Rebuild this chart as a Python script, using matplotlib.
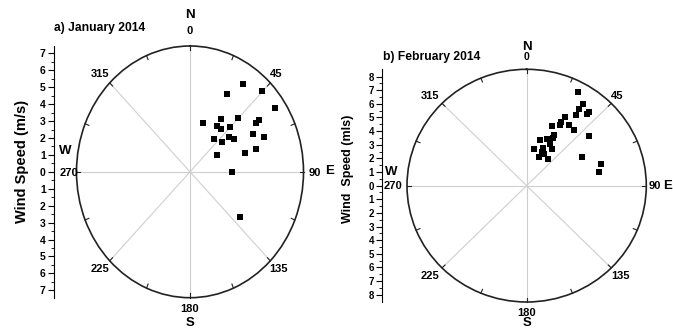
import numpy as np
import matplotlib.pyplot as plt

plt.rcParams["font.family"] = ["Liberation Sans", "DejaVu Sans"]
plt.rcParams["font.weight"] = "bold"

# wind direction (deg, clockwise from N) and speed (m/s)
jan_dir = [33.7, 27.9, 44.8, 56.1, 17.0, 33.4, 33.4, 39.3, 44.8, 44.8, 56.1, 56.2,
           39.3, 50.7, 56.1, 50.7, 61.6, 67.2, 61.4, 72.8, 72.9, 90.0, 129.0]
jan_speed = [6.24, 5.23, 6.73, 6.72, 3.00, 3.73, 3.26, 3.24, 4.48, 3.73, 5.48, 5.21,
             2.53, 3.28, 3.51, 2.74, 4.73, 5.25, 2.02, 3.75, 4.51, 2.74, 4.23]

feb_dir = [27.9, 33.9, 33.6, 39.4, 39.4, 28.2, 33.9, 27.8, 28.2, 33.9, 22.4, 39.5,
           27.6, 28.0, 50.9, 16.2, 22.8, 28.0, 23.0, 33.8, 10.5, 23.7, 28.0, 22.3,
           38.6, 62.0, 73.0, 78.9]
feb_speed = [7.75, 7.24, 6.73, 7.02, 6.77, 5.74, 6.25, 5.28, 5.02, 5.36, 4.73, 5.27,
             4.20, 3.99, 5.75, 3.49, 3.74, 3.49, 2.98, 3.24, 2.74, 2.72, 2.63, 2.25,
             2.47, 4.49, 5.51, 5.25]

dir_labels = ["0", "45", "90", "135", "180", "225", "270", "315"]

W, H = 673, 328
fig = plt.figure(figsize=(W / 100, H / 100), dpi=100)


def box(x0, y0, x1, y1):
    return [x0 / W, 1 - y1 / H, (x1 - x0) / W, (y1 - y0) / H]


def txt(x, y, s, size, **kw):
    fig.text(x / W, 1 - y / H, s, fontsize=size, fontweight="bold",
             ha=kw.pop("ha", "center"), va=kw.pop("va", "center"), **kw)


def rose(rect, dirs, speeds, rmax):
    ax = fig.add_axes(rect, projection="polar")
    ax.set_aspect("auto")
    ax.set_theta_zero_location("N")
    ax.set_theta_direction(-1)
    ax.plot(np.radians(dirs), speeds, "s", color="black", ms=3.9, mew=0, zorder=5)
    ax.set_ylim(0, rmax)
    ax.set_xticks(np.radians(np.arange(0, 360, 45)))
    ax.set_xticklabels([])
    ax.set_yticks([])
    ax.xaxis.grid(True, color="#cfcfcf", lw=0.8)
    # short inward ticks on the rim every 22.5 deg
    for a in np.radians(np.arange(0, 360, 22.5)):
        ax.plot([a, a], [rmax * 0.965, rmax], color="#222222", lw=0.8,
                clip_on=False, zorder=4)
    ax.set_ylim(0, rmax)
    ax.spines["polar"].set_linewidth(1.2)
    ax.spines["polar"].set_color("#222222")
    return ax


def speed_axis(x, rect, rmax, n, size):
    ax = fig.add_axes([x / W, rect[1], 0.0001, rect[3]])
    for s in ["top", "right", "bottom"]:
        ax.spines[s].set_visible(False)
    ax.set_xticks([])
    ax.set_ylim(-rmax, rmax)
    ticks = np.arange(-n, n + 1)
    ax.set_yticks(ticks)
    ax.set_yticklabels([str(abs(t)) for t in -ticks])
    ax.set_yticks(np.arange(-n + 0.5, n, 1.0), minor=True)
    ax.tick_params(axis="y", which="major", length=4, width=0.8, pad=1.5,
                   labelsize=size)
    ax.tick_params(axis="y", which="minor", length=2, width=0.6)
    for lab in ax.get_yticklabels():
        lab.set_fontweight("bold")
    return ax


# a) January
rect_a = box(76.5, 46, 303.5, 297.7)
rose(rect_a, jan_dir, jan_speed, 7.44)
speed_axis(53.5, rect_a, 7.44, 7, 7.5)
txt(22, 161, "Wind Speed (m/s)", 10.5, rotation=90)
txt(54, 27.5, "a) January 2014", 8.7, ha="left")
txt(190, 15.5, "N", 9.5)
txt(190, 31.5, dir_labels[0], 8)
txt(276, 74, dir_labels[1], 8)
txt(315, 172.5, dir_labels[2], 8)
txt(330, 171.5, "E", 9.5)
txt(278, 269.5, dir_labels[3], 8)
txt(190, 309.5, dir_labels[4], 8)
txt(190, 323.5, "S", 9.5)
txt(100, 269.5, dir_labels[5], 8)
txt(69.5, 172.5, dir_labels[6], 8)
txt(65, 151.5, "W", 9.5)
txt(100, 74, dir_labels[7], 8)

# b) February
rect_b = box(407, 69.3, 646.3, 302)
rose(rect_b, feb_dir, feb_speed, 8.53)
speed_axis(381.7, rect_b, 8.53, 8, 7)
txt(348, 169, "Wind  Speed (mls)", 9, rotation=90)
txt(383, 57.3, "b) February 2014", 8.7, ha="left")
txt(526.7, 46.5, "N", 9.5)
txt(526.7, 57.5, dir_labels[0], 7.5)
txt(617.3, 95.7, dir_labels[1], 8)
txt(655, 185.7, dir_labels[2], 8)
txt(667.5, 185.7, "E", 9.5)
txt(620, 276, dir_labels[3], 8)
txt(526.7, 312.7, dir_labels[4], 8)
txt(527.3, 322.5, "S", 9.5)
txt(430, 276, dir_labels[5], 8)
txt(392.7, 185.7, dir_labels[6], 8)
txt(391.7, 172.3, "W", 9.5)
txt(430, 95.7, dir_labels[7], 8)

fig.savefig("out.png", dpi=100)
